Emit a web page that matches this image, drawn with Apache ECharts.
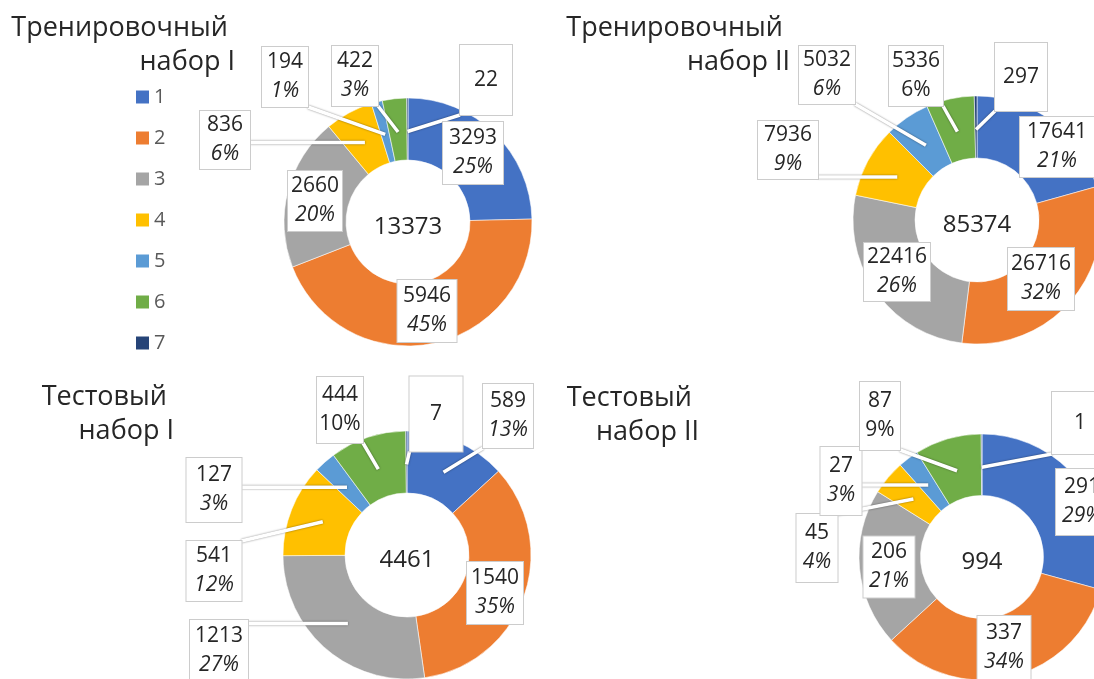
<!DOCTYPE html>
<html>
<head>
<meta charset="utf-8">
<script src="https://cdn.jsdelivr.net/npm/echarts@6/dist/echarts.min.js"></script>
<style>
  html, body { margin: 0; padding: 0; background: #ffffff; }
  #chart { width: 1094px; height: 679px; }
</style>
</head>
<body>
<div id="chart"></div>
<script>
// Class labels shared by all four donuts
const categories = ['1', '2', '3', '4', '5', '6', '7'];

// Sample counts per class and the percentages printed under them
const trainIValues = [3293, 5946, 2660, 836, 194, 422, 22];
const trainIPercents = [25, 45, 20, 6, 1, 3, null];
const trainIIValues = [17641, 26716, 22416, 7936, 5032, 5336, 297];
const trainIIPercents = [21, 32, 26, 9, 6, 6, null];
const testIValues = [589, 1540, 1213, 541, 127, 444, 7];
const testIPercents = [13, 35, 27, 12, 3, 10, null];
const testIIValues = [291, 337, 206, 45, 27, 87, 1];
const testIIPercents = [29, 34, 21, 4, 3, 9, null];

// Panel captions (the trailing space keeps the wrapped first line slightly left)
const titleTrainI = 'Тренировочный \nнабор I';
const titleTrainII = 'Тренировочный \nнабор II';
const titleTestI = 'Тестовый \nнабор I';
const titleTestII = 'Тестовый \nнабор II';

const palette = ['#4472C4', '#ED7D31', '#A5A5A5', '#FFC000', '#5B9BD5', '#70AD47', '#264478'];
const FONT = '"Open Sans", "Noto Sans", sans-serif';
const TEXT = '#262626';
const LINE_H = 29;

// Layout of each panel: ring centre/radius, caption anchor and callout boxes
// (boxes: centre x, centre y, width, height, in data order)
const panels = [
  {
    values: trainIValues, percents: trainIPercents, title: titleTrainI,
    center: [408, 222], radius: 124, titleAnchor: [235, 11],
    boxes: [[473, 153, 60, 62], [427, 311, 59, 62], [315, 201, 54, 60], [225, 140, 50, 58],
            [285, 77, 46, 60], [355, 76, 46, 60], [486, 80, 52, 70]],
    leaders: [3, 4, 5, 6], uprightPercent: []
  },
  {
    values: trainIIValues, percents: trainIIPercents, title: titleTrainII,
    center: [977, 220], radius: 124, titleAnchor: [790, 11],
    boxes: [[1057, 147, 74, 60], [1041, 279, 66, 62], [897, 272, 66, 58], [788, 150, 60, 58],
            [827, 75, 56, 58], [916, 76, 54, 60], [1021, 77, 52, 68]],
    leaders: [3, 4, 5, 6], uprightPercent: [5]
  },
  {
    values: testIValues, percents: testIPercents, title: titleTestI,
    center: [407, 555], radius: 124, titleAnchor: [174, 380],
    boxes: [[508, 416, 50, 64], [495, 593, 56, 62], [219, 651, 58, 62], [214, 571, 55, 60],
            [214, 490, 55, 64], [340, 410, 46, 66], [436, 414, 53, 75]],
    leaders: [0, 2, 3, 4, 5, 6], uprightPercent: [5]
  },
  {
    values: testIIValues, percents: testIIPercents, title: titleTestII,
    center: [982, 557], radius: 123, titleAnchor: [699, 381],
    boxes: [[1082, 502, 52, 66], [1004, 648, 53, 64], [889, 567, 51, 61], [817, 548, 41, 68],
            [841, 481, 41, 68], [880, 416, 40, 68], [1080, 423, 56, 62]],
    leaders: [3, 4, 5, 6], uprightPercent: [5]
  }
];

const richBase = { fontSize: 21, fontFamily: FONT, lineHeight: LINE_H, color: TEXT, align: 'center' };
const series = [];

// Coloured rings
panels.forEach(function (p) {
  series.push({
    type: 'pie',
    z: 2,
    center: p.center,
    radius: [p.radius * 0.5, p.radius],
    startAngle: 90,
    clockwise: true,
    avoidLabelOverlap: false,
    label: { show: false },
    labelLine: { show: false },
    emphasis: { disabled: true },
    itemStyle: { borderColor: 'rgba(255,255,255,0.55)', borderWidth: 1 },
    data: p.values.map(function (v, k) { return { name: categories[k], value: v }; })
  });
});

// Callout labels, drawn by a transparent copy of each ring on top of it
panels.forEach(function (p) {
  const cx = p.center[0], cy = p.center[1];
  const midR = p.radius * 0.73;
  series.push({
    type: 'pie',
    z: 3,
    silent: true,
    center: p.center,
    radius: [p.radius * 0.5, p.radius],
    startAngle: 90,
    clockwise: true,
    avoidLabelOverlap: false,
    emphasis: { disabled: true },
    itemStyle: { color: 'rgba(0,0,0,0)', borderWidth: 0 },
    label: {
      show: true,
      position: 'outside',
      align: 'center',
      backgroundColor: '#ffffff',
      borderColor: '#cccccc',
      borderWidth: 1,
      color: TEXT,
      formatter: function (params) {
        const k = params.dataIndex;
        const pct = p.percents[k];
        const head = '{v|' + params.value + '}';
        if (pct == null) return head;
        const st = p.uprightPercent.indexOf(k) >= 0 ? 'q' : 'p';
        return head + '\n{' + st + '|' + pct + '%}';
      },
      rich: {
        v: Object.assign({}, richBase),
        p: Object.assign({}, richBase, { fontStyle: 'italic' }),
        q: Object.assign({}, richBase)
      }
    },
    labelLine: {
      show: true,
      length: 8,
      length2: 8,
      lineStyle: { color: '#ffffff', width: 3.5, shadowBlur: 2, shadowColor: 'rgba(0,0,0,0.5)' }
    },
    labelLayout: function (params) {
      const b = p.boxes[params.dataIndex];
      const res = { x: b[0], y: b[1], align: 'center', verticalAlign: 'middle', hideOverlap: false };
      const pts = params.labelLinePoints;
      if (pts && p.leaders.indexOf(params.dataIndex) >= 0) {
        const p0 = pts[0];
        const dx = p0[0] - cx, dy = p0[1] - cy;
        const len = Math.sqrt(dx * dx + dy * dy) || 1;
        const ax = cx + dx / len * midR, ay = cy + dy / len * midR;
        const ex = Math.min(Math.max(ax, b[0] - b[2] / 2), b[0] + b[2] / 2);
        const ey = Math.min(Math.max(ay, b[1] - b[3] / 2), b[1] + b[3] / 2);
        res.labelLinePoints = [[ax, ay], [ex, ey]];
      }
      return res;
    },
    data: p.values.map(function (v, k) {
      const b = p.boxes[k];
      const lines = p.percents[k] == null ? 1 : 2;
      const pad = Math.max(0, (b[3] - lines * LINE_H) / 2);
      return {
        name: categories[k],
        value: v,
        label: { width: b[2], padding: [pad, 0, pad, 0] },
        labelLine: { show: p.leaders.indexOf(k) >= 0 }
      };
    })
  });
});

// Captions and totals in the donut holes
const graphics = [];
panels.forEach(function (p) {
  graphics.push({
    type: 'text',
    x: p.titleAnchor[0],
    y: p.titleAnchor[1],
    style: {
      text: p.title,
      fill: TEXT,
      font: '27px ' + FONT,
      lineHeight: 34,
      align: 'right',
      verticalAlign: 'top'
    }
  });
  const total = p.values.reduce(function (a, b) { return a + b; }, 0);
  graphics.push({
    type: 'text',
    x: p.center[0],
    y: p.center[1] + 5,
    z: 10,
    style: {
      text: String(total),
      fill: TEXT,
      font: '24px ' + FONT,
      align: 'center',
      verticalAlign: 'middle'
    }
  });
});

const chart = echarts.init(document.getElementById('chart'), null, { renderer: 'canvas' });
chart.setOption({
  backgroundColor: '#ffffff',
  animation: false,
  color: palette,
  legend: {
    orient: 'vertical',
    left: 131,
    top: 82,
    icon: 'rect',
    itemWidth: 13,
    itemHeight: 13,
    itemGap: 21,
    selectedMode: false,
    itemStyle: { borderWidth: 0 },
    data: categories,
    textStyle: { fontSize: 20, lineHeight: 20, color: '#595959', fontFamily: FONT }
  },
  graphic: graphics,
  series: series
});
</script>
</body>
</html>
